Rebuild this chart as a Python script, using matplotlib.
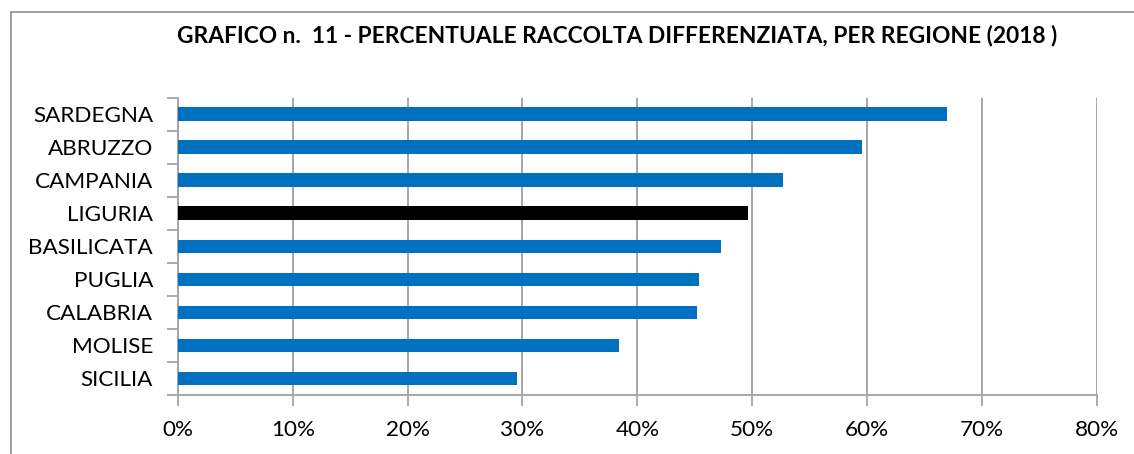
import matplotlib
matplotlib.use("Agg")

import matplotlib.pyplot as plt
from matplotlib.lines import Line2D
from matplotlib.ticker import FuncFormatter, MultipleLocator, FixedLocator
import numpy as np

# Data (top to bottom as shown)
regions = ["SARDEGNA", "ABRUZZO", "CAMPANIA", "LIGURIA", "BASILICATA",
           "PUGLIA", "CALABRIA", "MOLISE", "SICILIA"]
values = [67.0, 59.6, 52.7, 49.6, 47.3, 45.4, 45.2, 38.4, 29.5]
highlight = "LIGURIA"
title = "GRAFICO n.  11 - PERCENTUALE RACCOLTA DIFFERENZIATA, PER REGIONE (2018 )"

plt.rcParams["font.family"] = ["Lato", "DejaVu Sans"]

fig = plt.figure(figsize=(11.34, 4.54), dpi=100)
ax = fig.add_axes([0.157, 0.130, 0.810, 0.655])

grey = "#a6a6a6"
n = len(regions)
y = np.arange(n)[::-1]
colors = ["#000000" if r == highlight else "#0070C0" for r in regions]
ax.barh(y, values, height=0.41, color=colors, edgecolor="none", zorder=3)

ax.set_xlim(0, 80)
ax.set_ylim(-0.5, n - 0.5)
ax.xaxis.set_major_locator(MultipleLocator(10))
ax.xaxis.set_major_formatter(FuncFormatter(lambda v, p: f"{v:.0f}%"))
ax.grid(axis="x", color=grey, linewidth=1.4, zorder=0)

# category labels centered, tick marks on boundaries
ax.set_yticks(y)
ax.set_yticklabels(regions)
ax.yaxis.set_minor_locator(FixedLocator(np.arange(-0.5, n, 1.0)))
ax.tick_params(axis="y", which="major", length=0, pad=18, labelsize=16.2)
ax.tick_params(axis="y", which="minor", length=8, width=1.3, color=grey)
ax.tick_params(axis="x", length=8, width=1.3, color=grey, pad=10, labelsize=16.2)

for side in ["top", "right"]:
    ax.spines[side].set_visible(False)
for side in ["left", "bottom"]:
    ax.spines[side].set_color(grey)
    ax.spines[side].set_linewidth(1.4)

fig.text(0.544, 0.921, title, ha="center", va="center",
         fontsize=16.4, fontweight="bold")

# outer chart frame (top and left edges visible)
fx = 11 / 1134
fy = 1 - 12 / 454
fig.add_artist(Line2D([fx, 1], [fy, fy], transform=fig.transFigure, color="#999999", linewidth=1.3))
fig.add_artist(Line2D([fx, fx], [0, fy], transform=fig.transFigure, color="#999999", linewidth=1.3))

fig.savefig("out.png", dpi=100)
